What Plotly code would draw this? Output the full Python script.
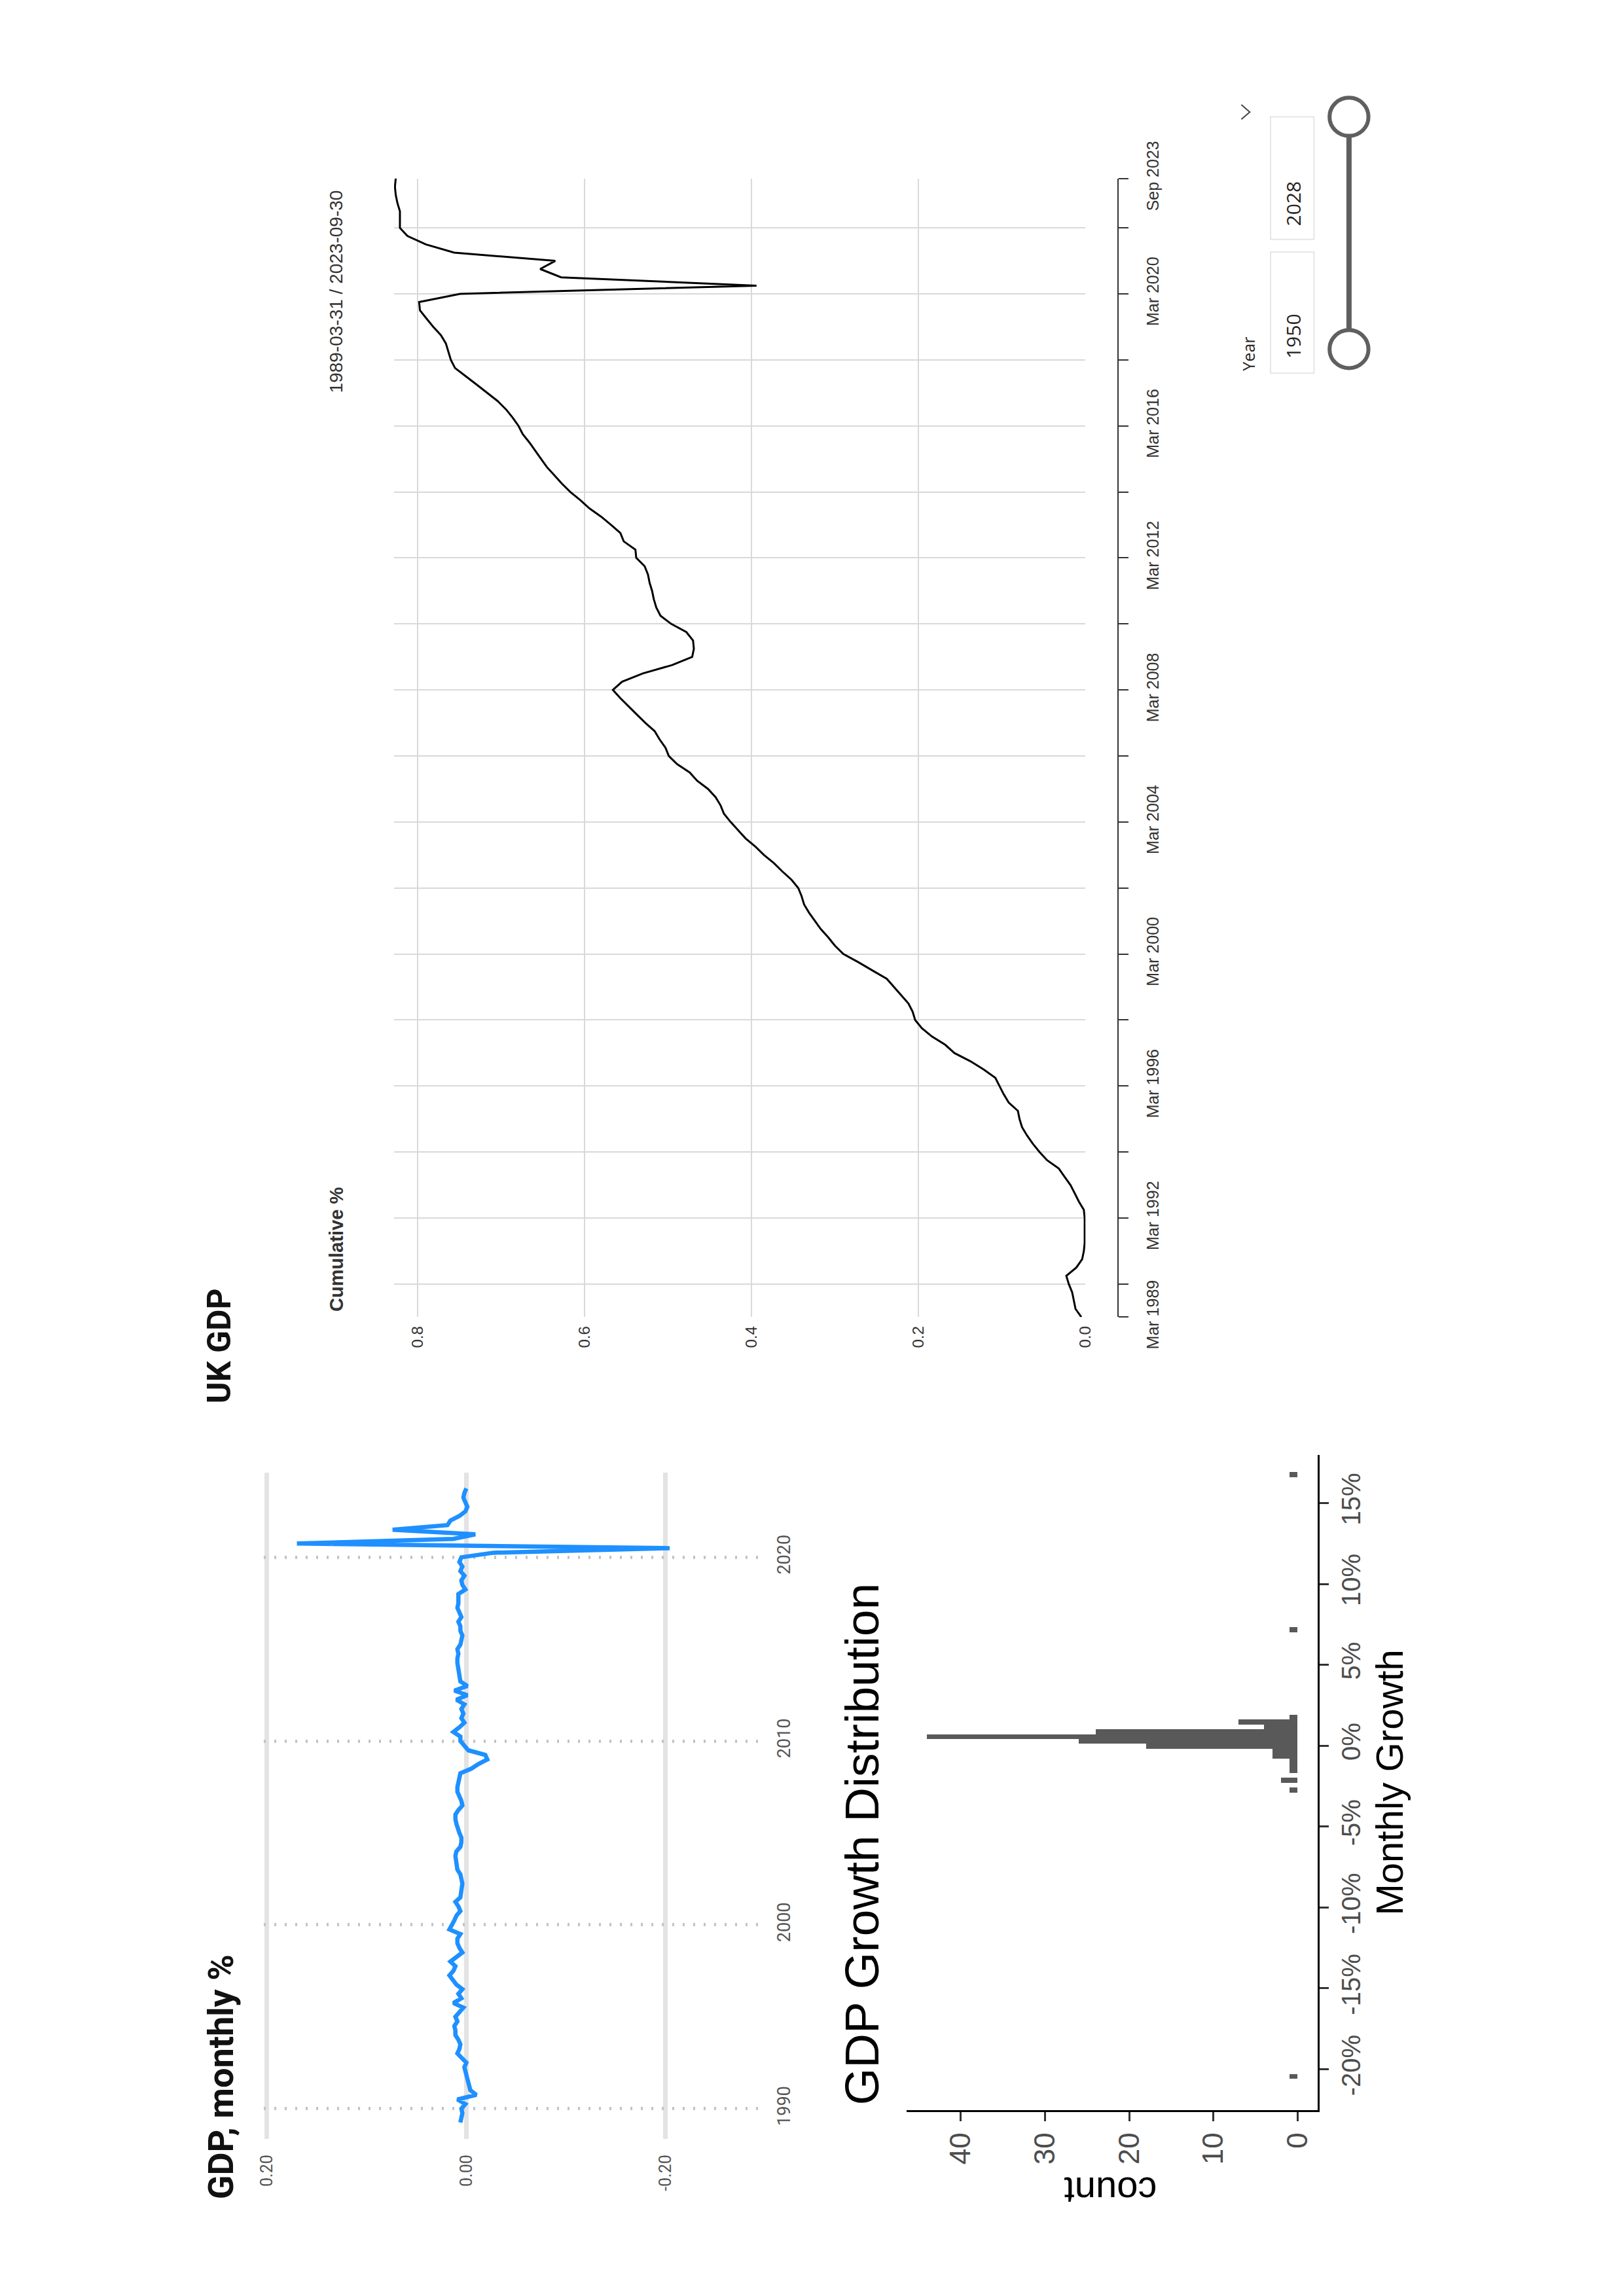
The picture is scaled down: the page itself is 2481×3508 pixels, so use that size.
import pandas as pd
import plotly.graph_objects as go

W, H = 2481, 3508

# quarter-end dates for both GDP series
quarters = pd.date_range("1989-03-31", periods=139, freq="QE").strftime("%Y-%m-%d").tolist()

# UK GDP cumulative % (quarterly)
cumulative = [
    0.005, 0.012, 0.014, 0.016,  # 1989
    0.020, 0.023, 0.011, 0.004,  # 1990
    0.002, 0.001, 0.001, 0.001,  # 1991
    0.001, 0.002, 0.008, 0.013,  # 1992
    0.018, 0.025, 0.032, 0.046,  # 1993
    0.055, 0.063, 0.070, 0.076,  # 1994
    0.079, 0.081, 0.092, 0.098,  # 1995
    0.103, 0.108, 0.122, 0.138,  # 1996
    0.157, 0.168, 0.184, 0.196,  # 1997
    0.204, 0.207, 0.212, 0.221,  # 1998
    0.229, 0.238, 0.255, 0.272,  # 1999
    0.290, 0.300, 0.308, 0.317,  # 2000
    0.324, 0.331, 0.337, 0.340,  # 2001
    0.344, 0.352, 0.363, 0.373,  # 2002
    0.385, 0.395, 0.407, 0.416,  # 2003
    0.425, 0.433, 0.437, 0.443,  # 2004
    0.452, 0.465, 0.474, 0.489,  # 2005
    0.499, 0.503, 0.510, 0.516,  # 2006
    0.527, 0.537, 0.547, 0.557,  # 2007
    0.566, 0.555, 0.530, 0.495,  # 2008
    0.471, 0.469, 0.470, 0.478,  # 2009
    0.496, 0.509, 0.514, 0.517,  # 2010
    0.519, 0.522, 0.524, 0.528,  # 2011
    0.538, 0.539, 0.553, 0.557,  # 2012
    0.568, 0.580, 0.594, 0.605,  # 2013
    0.617, 0.627, 0.636, 0.645,  # 2014
    0.652, 0.659, 0.666, 0.674,  # 2015
    0.679, 0.686, 0.694, 0.704,  # 2016
    0.716, 0.729, 0.742, 0.755,  # 2017
    0.760, 0.763, 0.766, 0.772,  # 2018
    0.781, 0.789, 0.797, 0.798,  # 2019
    0.749, 0.394, 0.628, 0.653,  # 2020
    0.635, 0.756, 0.790, 0.812,  # 2021
    0.821, 0.821, 0.821, 0.824,  # 2022
    0.826, 0.827, 0.826,         # 2023
]

# GDP growth per period (blue line)
growth = [
    0.006, 0.005, 0.004, 0.005,
    0.001, 0.009, -0.010, -0.004,
    -0.003, -0.002, -0.001, 0.001,
    0.002, 0.000, 0.004, 0.009,
    0.007, 0.006, 0.008, 0.011,
    0.011, 0.012, 0.009, 0.011,
    0.007, 0.003, 0.013, 0.005,
    0.008, 0.004, 0.010, 0.014,
    0.017, 0.013, 0.011, 0.016,
    0.010, 0.004, 0.007, 0.009,
    0.009, 0.006, 0.017, 0.014,
    0.012, 0.010, 0.006, 0.008,
    0.011, 0.006, 0.005, 0.004,
    0.004, 0.005, 0.006, 0.009,
    0.010, 0.010, 0.011, 0.010,
    0.006, 0.005, 0.005, 0.007,
    0.009, 0.010, 0.011, 0.011,
    0.008, 0.004, 0.005, 0.007,
    0.009, 0.009, 0.008, 0.007,
    0.006, -0.005, -0.012, -0.021,
    -0.019, -0.002, 0.002, 0.006,
    0.006, 0.013, 0.007, 0.002,
    0.005, 0.003, 0.005, 0.002,
    0.010, -0.001, 0.012, -0.001,
    0.006, 0.007, 0.008, 0.008,
    0.009, 0.009, 0.008, 0.009,
    0.006, 0.005, 0.004, 0.006,
    0.006, 0.008, 0.005, 0.007,
    0.009, 0.008, 0.008, 0.008,
    0.001, 0.004, 0.005, 0.002,
    0.006, 0.004, 0.007, 0.005,
    -0.027, -0.204, 0.170, 0.013,
    -0.009, 0.074, 0.019, 0.016,
    0.007, 0.001, -0.001, 0.001,
    0.003, 0.002, 0.000,
]

# histogram of growth (bin centres in %, counts)
hist_bins = [-20.43, -2.73, -2.13, -1.53, -1.23, -0.93, -0.63, -0.33, -0.03,
             0.27, 0.57, 0.87, 1.17, 1.47, 1.77, 7.17, 16.77]
hist_counts = [1, 1, 2, 1, 1, 1, 3, 3, 18, 26, 44, 24, 4, 7, 1, 1, 1]

cum_tick_dates = ["1989-03-31", "1990-03-31", "1992-03-31", "1994-03-31", "1996-03-31",
                  "1998-03-31", "2000-03-31", "2002-03-31", "2004-03-31", "2006-03-31",
                  "2008-03-31", "2010-03-31", "2012-03-31", "2014-03-31", "2016-03-31",
                  "2018-03-31", "2020-03-31", "2022-03-31", "2023-09-30"]
cum_tick_text = ["Mar 1989", "", "Mar 1992", "", "Mar 1996", "", "Mar 2000", "", "Mar 2004", "",
                 "Mar 2008", "", "Mar 2012", "", "Mar 2016", "", "Mar 2020", "", "Sep 2023"]
cum_vals = [0.0, 0.2, 0.4, 0.6, 0.8]
cum_val_text = ["0.0", "0.2", "0.4", "0.6", "0.8"]

gr_years = ["1990-01-01", "2000-01-01", "2010-01-01", "2020-01-01"]
gr_year_text = ["1990", "2000", "2010", "2020"]
gr_vals = [0.2, 0.0, -0.2]
gr_val_text = ["0.20", "0.00", "-0.20"]

pct_ticks = [-20, -15, -10, -5, 0, 5, 10, 15]
pct_text = ["-20%", "-15%", "-10%", "-5%", "0%", "5%", "10%", "15%"]
count_ticks = [0, 10, 20, 30, 40]


def fx(px):
    return px / W


def fy(py):
    return 1 - py / H


fig = go.Figure()

fig.add_trace(go.Scatter(x=cumulative, y=quarters, mode="lines",
                         line=dict(color="black", width=3), xaxis="x", yaxis="y"))
fig.add_trace(go.Scatter(x=growth, y=quarters, mode="lines",
                         line=dict(color="#1E90FF", width=6.5), xaxis="x2", yaxis="y2"))
fig.add_trace(go.Bar(x=hist_counts, y=hist_bins, orientation="h", width=0.3,
                     marker=dict(color="#595959", line=dict(width=0)), xaxis="x3", yaxis="y3"))

fig.update_layout(
    width=W, height=H, autosize=False,
    margin=dict(l=0, r=0, t=0, b=0),
    paper_bgcolor="white", plot_bgcolor="white",
    showlegend=False, bargap=0,
    font=dict(family="Liberation Sans", color="#333333"),
    # UK GDP cumulative
    xaxis=dict(domain=[fx(589.5), fx(1655.7)], range=[0.828, 0.0], anchor="y",
               tickvals=cum_vals, ticktext=cum_val_text,
               tickangle=-90, tickfont=dict(size=24, color="#333333"),
               showgrid=True, gridcolor="#d9d9d9", gridwidth=2, zeroline=False,
               showline=False, ticks="", ticklabelstandoff=8),
    yaxis=dict(domain=[fy(2008), fy(214)], type="date", range=["1989-03-31", "2023-09-30"],
               anchor="free", position=fx(1706), side="right",
               tickvals=cum_tick_dates, ticktext=cum_tick_text, tickangle=-90,
               tickfont=dict(size=25, color="#333333"),
               showline=True, linecolor="#333333", linewidth=2,
               ticks="outside", ticklen=15, tickwidth=2, tickcolor="#333333",
               showgrid=True, gridcolor="#d9d9d9", gridwidth=2, zeroline=False,
               ticklabelstandoff=16),
    # GDP monthly %
    xaxis2=dict(domain=[fx(389), fx(1162)], range=[0.203, -0.30], anchor="y2",
                tickvals=gr_vals, ticktext=gr_val_text, tickangle=-90,
                tickfont=dict(family="Roboto", size=25, color="#555555"),
                showgrid=True, gridcolor="#e3e3e3", gridwidth=7, zeroline=False,
                showline=False, ticks="", ticklabelstandoff=18),
    yaxis2=dict(domain=[fy(3303), fy(2253)], type="date", range=["1988-05-05", "2024-08-10"],
                anchor="x2", side="right", tickvals=gr_years, ticktext=gr_year_text,
                tickangle=-90, tickfont=dict(family="Roboto", size=27, color="#555555"),
                showgrid=True, gridcolor="#c4c4c4", gridwidth=5, griddash="3px,13px",
                zeroline=False, showline=False, ticks="", ticklabelstandoff=10),
    # histogram
    xaxis3=dict(domain=[fx(1380), fx(2013.8)], range=[46.42, -2.37], anchor="y3", side="bottom",
                tickvals=count_ticks, tickangle=-90,
                tickfont=dict(size=44, color="#4d4d4d"),
                showline=True, linecolor="black", linewidth=3,
                ticks="outside", ticklen=14, tickwidth=3, tickcolor="#333333",
                showgrid=False, zeroline=False, ticklabelstandoff=0),
    yaxis3=dict(domain=[fy(3257), fy(2225)], range=[-22.51, 17.98], anchor="x3", side="right",
                tickvals=pct_ticks, ticktext=pct_text, tickangle=-90,
                tickfont=dict(size=40, color="#4d4d4d"),
                showline=True, linecolor="black", linewidth=3,
                ticks="outside", ticklen=14, tickwidth=3, tickcolor="#333333",
                showgrid=False, zeroline=False, ticklabelstandoff=0),
)

notes = [
    dict(text="<b>UK GDP</b>", x=320, y=2146, xanchor="center", yanchor="bottom",
         font=dict(family="Roboto", size=50, color="#111111")),
    dict(text="<b>Cumulative %</b>", x=500, y=2001, xanchor="center", yanchor="bottom",
         font=dict(size=29, color="#333333")),
    dict(text="1989-03-31 / 2023-09-30", x=500, y=230, xanchor="center", yanchor="top",
         font=dict(size=28, color="#333333")),
    dict(text="<b>GDP, monthly %</b>", x=322, y=3400, xanchor="center", yanchor="bottom",
         font=dict(family="Roboto", size=54, color="#111111")),
    dict(text="GDP Growth Distribution", x=1311, y=3252, xanchor="center", yanchor="bottom",
         font=dict(size=73, color="black")),
    dict(text="Monthly Growth", x=2124, y=2741, xanchor="center", yanchor="middle",
         font=dict(size=58, color="black")),
    dict(text="Year", x=1907, y=519, xanchor="center", yanchor="bottom",
         font=dict(family="Open Sans", size=25, color="#252423")),
    dict(text="1950", x=1976, y=500, xanchor="center", yanchor="bottom",
         font=dict(family="Open Sans", size=30, color="#252423")),
    dict(text="2028", x=1976, y=291, xanchor="center", yanchor="bottom",
         font=dict(family="Open Sans", size=30, color="#252423")),
]
annotations = []
for n in notes:
    annotations.append(dict(text=n["text"], x=fx(n["x"]), y=fy(n["y"]), xref="paper", yref="paper",
                            xanchor=n["xanchor"], yanchor=n["yanchor"], showarrow=False,
                            textangle=-90, font=n["font"]))
annotations.append(dict(text="count", x=fx(1694), y=fy(3385), xref="paper", yref="paper",
                        xanchor="center", yanchor="middle", showarrow=False, textangle=180,
                        font=dict(size=58, color="black")))
fig.update_layout(annotations=annotations)

# year slicer widget
shapes = [
    dict(type="rect", x0=fx(1941), x1=fx(2008), y0=fy(117), y1=fy(310),
         line=dict(color="#e6e6e6", width=2), fillcolor="white"),
    dict(type="rect", x0=fx(1941), x1=fx(2008), y0=fy(330), y1=fy(521),
         line=dict(color="#e6e6e6", width=2), fillcolor="white"),
    dict(type="line", x0=fx(2062), x1=fx(2062), y0=fy(117), y1=fy(483),
         line=dict(color="#5f5f5f", width=8)),
    dict(type="circle", x0=fx(2032), x1=fx(2092), y0=fy(87), y1=fy(147),
         line=dict(color="#5f5f5f", width=6), fillcolor="white"),
    dict(type="circle", x0=fx(2032), x1=fx(2092), y0=fy(453), y1=fy(513),
         line=dict(color="#5f5f5f", width=6), fillcolor="white"),
    dict(type="path", path=f"M {fx(1896)} {fy(98)} L {fx(1909)} {fy(109.5)} L {fx(1896)} {fy(121)}",
         line=dict(color="#444444", width=2)),
]
for s in shapes:
    s["xref"] = "paper"
    s["yref"] = "paper"
fig.update_layout(shapes=shapes)

fig.write_html("out.html")
